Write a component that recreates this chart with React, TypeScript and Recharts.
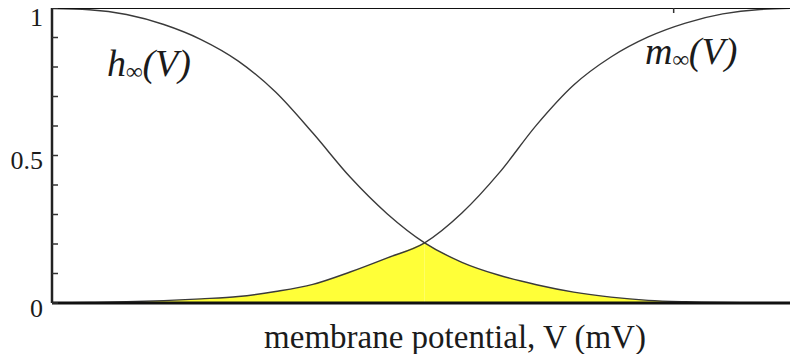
import { Area, ComposedChart, Line, XAxis, YAxis } from "recharts";

// membrane potential, arbitrary units across the plot
const vValues = [0, 5, 10, 15, 20, 25, 30, 35, 40, 45, 50, 55, 60, 65, 70, 75, 80, 85, 90, 95, 100];
const hInf = [0.998, 0.994, 0.978, 0.944, 0.893, 0.82, 0.715, 0.576, 0.427, 0.302, 0.204, 0.138, 0.094, 0.062, 0.037, 0.02, 0.009, 0.004, 0.0015, 0.0005, 0];
const mInf = [0, 0.0017, 0.004, 0.008, 0.014, 0.022, 0.039, 0.063, 0.105, 0.153, 0.204, 0.305, 0.441, 0.603, 0.739, 0.834, 0.902, 0.949, 0.98, 0.995, 0.999];
const crossingV = 50;

const yTicks = [0, 0.1, 0.2, 0.3, 0.4, 0.5, 0.6, 0.7, 0.8, 0.9, 1];
const yLabels: Record<string, string> = { "0": "0", "0.5": "0.5", "1": "1" };
const topTicks = [16.6, 84];

const data = vValues.map((v, i) => ({
  v,
  h: hInf[i],
  m: mInf[i],
  mFill: v <= crossingV ? mInf[i] : null,
  hFill: v >= crossingV ? hInf[i] : null,
}));

const serif = '"Liberation Serif", "DejaVu Serif", serif';
const ink = "#1b1b1b";

function LeftTick(props: any) {
  const { x, y, payload } = props;
  const label = yLabels[String(payload.value)];
  return (
    <g>
      <line x1={x} x2={x + 6} y1={y} y2={y} stroke="#333" strokeWidth={1.5} />
      {label && (
        <text
          x={x - 9}
          y={y + (payload.value === 1 ? 9 : 5)}
          textAnchor="end"
          dominantBaseline="central"
          style={{ fontFamily: serif, fontSize: 26 }}
          fill={ink}
        >
          {label}
        </text>
      )}
    </g>
  );
}

function RightTick(props: any) {
  const { x, y } = props;
  return <line x1={x - 6} x2={x} y1={y} y2={y} stroke="#333" strokeWidth={1.5} />;
}

function TopTick(props: any) {
  const { x, y } = props;
  return <line x1={x} x2={x} y1={y} y2={y + 5} stroke="#333" strokeWidth={1.5} />;
}

export default function App() {
  return (
    <div style={{ margin: -8, position: "relative", width: 798, height: 362, overflow: "hidden", background: "#fff" }}>
      <ComposedChart width={802} height={362} data={data} margin={{ top: 0, right: 1, bottom: 0, left: 0 }}>
        <XAxis
          dataKey="v"
          type="number"
          domain={[0, 100.5]}
          height={59}
          tick={false}
          tickLine={false}
          axisLine={{ stroke: "#111", strokeWidth: 3 }}
        />
        <XAxis
          xAxisId="top"
          orientation="top"
          type="number"
          domain={[0, 100.5]}
          ticks={topTicks}
          height={8}
          tickSize={0}
          tickMargin={0}
          tick={<TopTick />}
          axisLine={{ stroke: "#111", strokeWidth: 2 }}
        />
        <YAxis
          type="number"
          domain={[0, 1]}
          ticks={yTicks}
          width={52}
          tickSize={0}
          tickMargin={0}
          tick={<LeftTick />}
          axisLine={{ stroke: "#222", strokeWidth: 2.5 }}
          interval={0}
        />
        <YAxis
          yAxisId="right"
          orientation="right"
          type="number"
          domain={[0, 1]}
          ticks={yTicks}
          width={0}
          tickSize={0}
          tickMargin={0}
          tick={<RightTick />}
          axisLine={{ stroke: "#222", strokeWidth: 2 }}
          interval={0}
        />
        <Area dataKey="mFill" type="monotone" stroke="none" fill="#ffff38" fillOpacity={1} isAnimationActive={false} />
        <Area dataKey="hFill" type="monotone" stroke="none" fill="#ffff38" fillOpacity={1} isAnimationActive={false} />
        <Line dataKey="h" type="monotone" stroke="#3a3a3a" strokeWidth={1.4} dot={false} isAnimationActive={false} />
        <Line dataKey="m" type="monotone" stroke="#3a3a3a" strokeWidth={1.4} dot={false} isAnimationActive={false} />
      </ComposedChart>
      <svg
        width={798}
        height={362}
        style={{ position: "absolute", left: 0, top: 0, pointerEvents: "none" }}
      >
        <text x={107} y={76} style={{ fontFamily: serif, fontStyle: "italic", fontSize: 38 }} fill={ink}>
          h<tspan style={{ fontSize: 23 }} dy={3}>∞</tspan>
          <tspan style={{ fontSize: 38 }} dy={-3}>(V)</tspan>
        </text>
        <text x={645} y={64} style={{ fontFamily: serif, fontStyle: "italic", fontSize: 38 }} fill={ink}>
          m<tspan style={{ fontSize: 23 }} dy={3}>∞</tspan>
          <tspan style={{ fontSize: 38 }} dy={-3}>(V)</tspan>
        </text>
        <text x={455} y={348} textAnchor="middle" style={{ fontFamily: serif, fontSize: 33 }} fill={ink}>
          membrane potential, V (mV)
        </text>
      </svg>
    </div>
  );
}
